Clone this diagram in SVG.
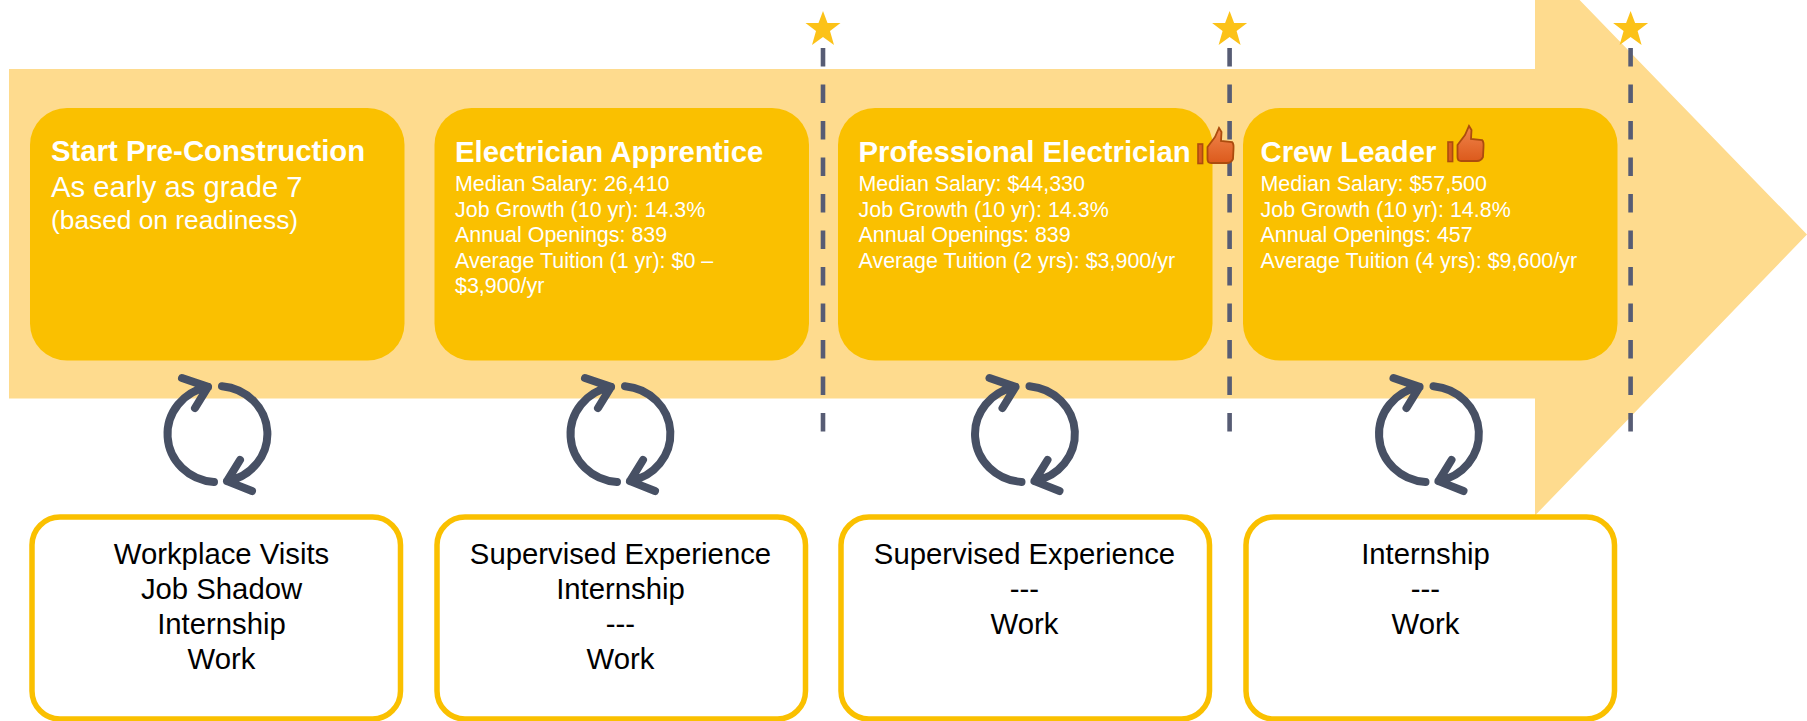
<svg xmlns="http://www.w3.org/2000/svg" width="1807" height="721" viewBox="0 0 1807 721">
<style>
text{font-family:"Liberation Sans",Arial,sans-serif}
.card{fill:#fac000}
.h{font-size:29.3px;font-weight:700;fill:#fff}
.s{font-size:21.45px;fill:#fff}
.box{fill:#fff;stroke:#fac000;stroke-width:5.5}
.b{font-size:29.3px;fill:#000;text-anchor:middle}
.dash{stroke:#575c74;stroke-width:4.6;stroke-dasharray:18.5 18;fill:none}
.cyc{fill:none;stroke:#475064;stroke-width:8;stroke-linecap:round;stroke-linejoin:round}
.star{fill:#fcc218}
</style>
<defs>
<linearGradient id="tg" x1="0" y1="0" x2="0" y2="1"><stop offset="0" stop-color="#f0854c"/><stop offset="1" stop-color="#dc5a1c"/></linearGradient>
<g id="cycle">
<path class="cyc" d="M-9.5 -47.1A50 48 0 0 0 -3.5 47.9M-35.5 -56L-9.5 -47.1L-22.5 -26"/>
<path class="cyc" d="M4.5 -47.8A50 48 0 0 1 9.5 47.1M34.5 57L9.5 47.1L22.5 26"/>
</g>
<polygon id="star" class="star" points="0,-18 4.5,-6 17.5,-6 7,2 11,16 0,8 -11,16 -7,2 -17.5,-6 -4.5,-6"/>
<g id="thumb">
<rect x="1" y="17" width="4.6" height="19.5" fill="#d9601c" stroke="#ac4c0e" stroke-width="1.6"/>
<path d="M10.5 20L18 10L22 1L24.5 5L24 14L35 15Q37 17 36.5 22L36 32Q34 36 30 36L14 36Q10.5 36 10.5 32Z" fill="url(#tg)" stroke="#ac4c0e" stroke-width="1.8"/>
</g>
</defs>
<polygon id="arrow" fill="#fedb8e" points="9,69 1535,69 1535,-46 1807,234.5 1535,515.5 1535,398.5 9,398.5"/>
<g id="connectors">
<line class="dash" x1="823" y1="48" x2="823" y2="432"/>
<line class="dash" x1="1229.6" y1="48" x2="1229.6" y2="432"/>
<line class="dash" x1="1630.6" y1="48" x2="1630.6" y2="432"/>
<use href="#cycle" x="217.5" y="434"/>
<use href="#cycle" x="620.5" y="434"/>
<use href="#cycle" x="1025" y="434"/>
<use href="#cycle" x="1429" y="434"/>
</g>
<g id="stars">
<use href="#star" x="823" y="29"/>
<use href="#star" x="1229.6" y="29"/>
<use href="#star" x="1630.6" y="29"/>
</g>
<g id="node-start">
<rect class="card" x="30" y="108" width="374.5" height="252.5" rx="37"/>
<text class="h" x="51" y="161">Start Pre-Construction</text>
<text x="51" y="197" style="font-size:29.2px;fill:#fff">As early as grade 7</text>
<text x="51" y="229" style="font-size:26.3px;fill:#fff">(based on readiness)</text>
</g>
<g id="node-apprentice">
<rect class="card" x="434.5" y="108" width="374.5" height="252.5" rx="37"/>
<text class="h" x="455" y="162">Electrician Apprentice</text>
<text class="s" x="455" y="191">Median Salary: 26,410</text>
<text class="s" x="455" y="216.5">Job Growth (10 yr): 14.3%</text>
<text class="s" x="455" y="242">Annual Openings: 839</text>
<text class="s" x="455" y="267.5">Average Tuition (1 yr): $0 –</text>
<text class="s" x="455" y="293">$3,900/yr</text>
</g>
<g id="node-professional">
<rect class="card" x="838" y="108" width="374.5" height="252.5" rx="37"/>
<text class="h" x="858.5" y="162">Professional Electrician</text>
<text class="s" x="858.5" y="191">Median Salary: $44,330</text>
<text class="s" x="858.5" y="216.5">Job Growth (10 yr): 14.3%</text>
<text class="s" x="858.5" y="242">Annual Openings: 839</text>
<text class="s" x="858.5" y="267.5">Average Tuition (2 yrs): $3,900/yr</text>
<use href="#thumb" x="1197" y="127"/>
</g>
<g id="node-crew">
<rect class="card" x="1243" y="108" width="374.5" height="252.5" rx="37"/>
<text class="h" x="1260.5" y="162">Crew Leader</text>
<text class="s" x="1260.5" y="191">Median Salary: $57,500</text>
<text class="s" x="1260.5" y="216.5">Job Growth (10 yr): 14.8%</text>
<text class="s" x="1260.5" y="242">Annual Openings: 457</text>
<text class="s" x="1260.5" y="267.5">Average Tuition (4 yrs): $9,600/yr</text>
<use href="#thumb" x="1447" y="125"/>
</g>
<g id="box-1">
<rect class="box" x="32" y="517" width="368.5" height="202" rx="28"/>
<text class="b" x="221.5" y="564">Workplace Visits</text>
<text class="b" x="221.5" y="599">Job Shadow</text>
<text class="b" x="221.5" y="634">Internship</text>
<text class="b" x="221.5" y="669">Work</text>
</g>
<g id="box-2">
<rect class="box" x="437" y="517" width="368.5" height="202" rx="28"/>
<text class="b" x="620.5" y="564">Supervised Experience</text>
<text class="b" x="620.5" y="599">Internship</text>
<text class="b" x="620.5" y="634">---</text>
<text class="b" x="620.5" y="669">Work</text>
</g>
<g id="box-3">
<rect class="box" x="841" y="517" width="368.5" height="202" rx="28"/>
<text class="b" x="1024.5" y="564">Supervised Experience</text>
<text class="b" x="1024.5" y="599">---</text>
<text class="b" x="1024.5" y="634">Work</text>
</g>
<g id="box-4">
<rect class="box" x="1246" y="517" width="368.5" height="202" rx="28"/>
<text class="b" x="1425.5" y="564">Internship</text>
<text class="b" x="1425.5" y="599">---</text>
<text class="b" x="1425.5" y="634">Work</text>
</g>
</svg>
